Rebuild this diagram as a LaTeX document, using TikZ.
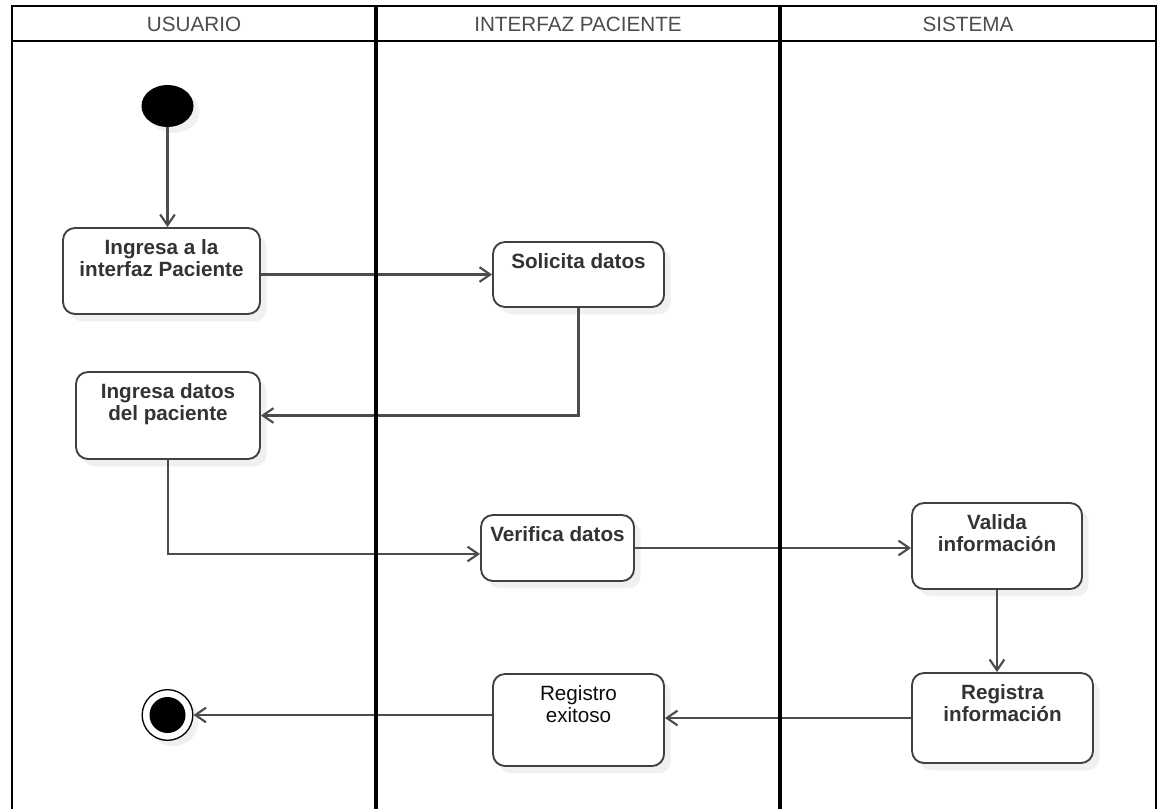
\documentclass[tikz,border=0pt]{standalone}
\usepackage{fontspec}
\setmainfont{Liberation Sans}
\usetikzlibrary{arrows.meta,shapes.geometric,shadows}

\begin{document}
\begin{tikzpicture}[x=0.75pt,y=-0.75pt]

	% Estilos
	\tikzset{
		actividad/.style={
			rectangle,
			rounded corners=9pt,
			draw=black!75,
			line width=1.4pt,
			fill=white,
			drop shadow={shadow xshift=5pt, shadow yshift=-5.5pt, fill=black!6, opacity=1}
		},
		texto/.style={
			font=\fontsize{15.5}{16.5}\selectfont\bfseries,
			text=black!80,
			align=center,
			inner sep=0pt,
			anchor=north,
			yshift=-9.5pt
		},
		textofino/.style={texto, font=\fontsize{15.5}{16.5}\selectfont, text=black!95},
		cabecera/.style={font=\fontsize{15.5}{17}\selectfont, text=black!70},
		flujo/.style={draw=black!70, line width=1.6pt, -{Straight Barb[length=8pt,width=11pt]}},
		carril/.style={line width=1.4pt},
		divisor/.style={line width=3pt}
	}
	\useasboundingbox (0,0) rectangle (1163,809);

	% Nodos
	\node[ellipse, fill=black, minimum width=39pt, minimum height=31.5pt, inner sep=0pt,
		drop shadow={shadow xshift=4.5pt, shadow yshift=-4.5pt, fill=black!6, opacity=1}] (inicio) at (167.5,106) {};
	\node[actividad, minimum width=147.75pt, minimum height=64.5pt,
		label={[texto]north:{Ingresa a la\\interfaz Paciente}}] (ingresa) at (161.5,271) {};
	\node[actividad, minimum width=128.25pt, minimum height=48.75pt,
		label={[texto]north:{Solicita datos}}] (solicita) at (578.5,274.5) {};
	\node[actividad, minimum width=138pt, minimum height=65.25pt,
		label={[texto]north:{Ingresa datos\\del paciente}}] (ingdatos) at (168,415.5) {};
	\node[actividad, minimum width=114.75pt, minimum height=49.5pt,
		label={[texto]north:{Verifica datos}}] (verifica) at (557.5,548) {};
	\node[actividad, minimum width=127.5pt, minimum height=64.5pt,
		label={[texto]north:{Valida\\información}}] (valida) at (997,546) {};
	\node[actividad, minimum width=135.75pt, minimum height=67.5pt,
		label={[texto]north:{Registra\\información}}] (registra) at (1002.5,718) {};
	\node[actividad, minimum width=128.25pt, minimum height=69pt,
		label={[textofino]north:{Registro\\exitoso}}] (exitoso) at (578.5,720) {};
	\node[circle, draw=black, line width=1pt, fill=white, minimum size=38pt, inner sep=0pt,
		drop shadow={shadow xshift=4.5pt, shadow yshift=-4.5pt, fill=black!6, opacity=1}] (fin) at (167.5,715) {};
	\node[circle, fill=black, minimum size=27pt, inner sep=0pt] (punto) at (fin) {};

	% Flechas
	\draw[flujo] (inicio) -- (inicio |- ingresa.north);
	\draw[flujo] (ingresa.east |- solicita) -- (solicita.west);
	\draw[flujo] (solicita.south) |- (ingdatos.east);
	\draw[flujo] (ingdatos.south) |- ([yshift=-4.5pt]verifica.west);
	\draw[flujo] (verifica.east) -- (verifica.east -| valida.west);
	\draw[flujo] (valida.south) -- (valida.south |- registra.north);
	\draw[flujo] (registra.west) -- (registra.west -| exitoso.east);
	\draw[flujo] (exitoso.west |- fin) -- (fin);

	% Carriles
	\draw[carril] (12,809) |- (1156,6) -- (1156,809);
	\draw[carril] (12,41) -- (1156,41);
	\draw[divisor] (376,6) -- (376,809);
	\draw[divisor] (780,6) -- (780,809);
	\node[cabecera] (usuario) at (194,24) {USUARIO};
	\node[cabecera] (interfaz) at (578,24) {INTERFAZ PACIENTE};
	\node[cabecera] (sistema) at (968,24) {SISTEMA};

\end{tikzpicture}
\end{document}
